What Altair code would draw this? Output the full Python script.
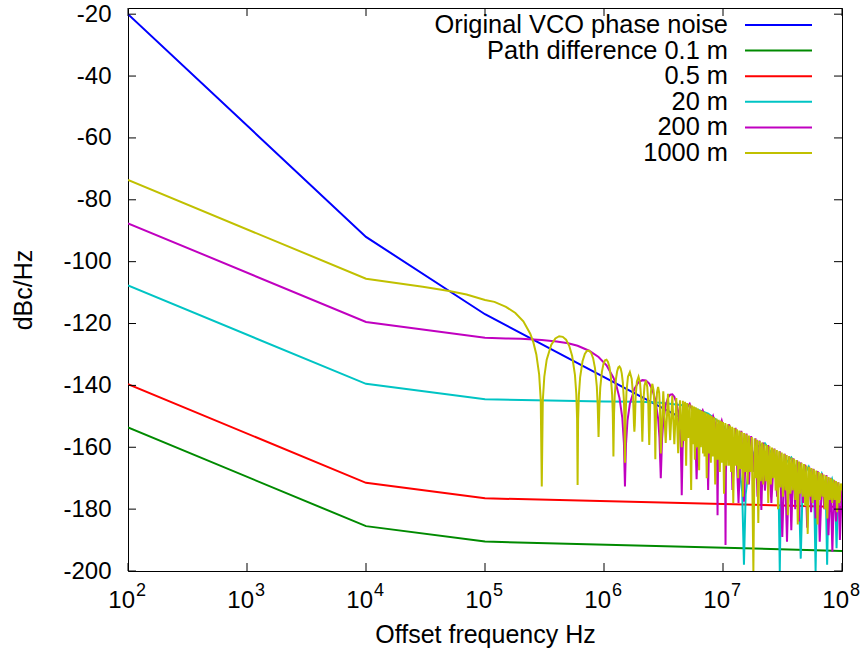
import altair as alt
import pandas as pd

FONT = "Liberation Sans"

# ---------------- data ----------------
vco_f = [1e2, 1e4, 1e5, 1e8]
vco_db = [-20.0, -92.0, -117.0, -178.0]

p01_f = [1e2, 1e4, 1e5, 1e8]
p01_db = [-153.6, -185.5, -190.5, -193.5]

p05_f = [1e2, 1e4, 1e5, 1e8]
p05_db = [-139.6, -171.5, -176.5, -179.3]

p20_f = [1e2, 1e4, 1e5, 1e6, 2e6, 3e6, 5e6, 7.5e6, 1e7, 1.2e7,
         1.35e7, 1.45e7, 1.5e7, 1.55e7, 1.65e7, 1.9e7, 2.25e7, 2.6e7, 2.85e7, 2.95e7,
         3.0e7, 3.05e7, 3.15e7, 3.4e7, 3.75e7, 4.1e7, 4.35e7, 4.5e7, 4.65e7, 4.9e7,
         5.25e7, 5.6e7, 5.85e7, 6.0e7, 6.15e7, 6.4e7, 6.75e7, 7.1e7, 7.35e7, 7.5e7,
         7.65e7, 7.9e7, 8.25e7, 8.6e7, 8.85e7, 9.0e7, 9.15e7, 9.4e7, 1e8]
p20_db = [-107.7, -139.5, -144.5, -145.2, -145.3, -145.6, -146.6, -149.1, -152.8, -157.8,
          -164.4, -174.4, -198.0, -175.2, -166.4, -160.0, -158.7, -162.4, -170.8, -180.5,
          -200.0, -180.9, -171.8, -164.9, -163.3, -166.7, -174.8, -196.0, -175.4, -168.3,
          -166.3, -169.5, -176.4, -200.0, -177.0, -170.7, -168.6, -171.6, -179.5, -198.0,
          -179.8, -172.5, -170.3, -173.3, -181.0, -192.6, -181.3, -174.1, -173.1]

p200_f = [1e2, 1e4, 1e5, 1.5e5, 2e5, 3e5, 4e5, 5e5, 6e5, 7.5e5, 9e5, 1.05e6, 1.2e6, 1.275e6, 1.35e6, 1.425e6, 1.47e6, 1.5e6,
          1.53e6, 1.575e6, 1.65e6, 1.8e6, 1.95e6, 2.1e6, 2.25e6, 2.4e6, 2.55e6, 2.7e6, 2.85e6, 2.925e6, 2.97e6, 3.0e6,
          3.03e6, 3.075e6, 3.15e6, 3.3e6, 3.45e6, 3.6e6, 3.75e6, 3.9e6, 4.05e6, 4.2e6, 4.35e6, 4.425e6, 4.47e6, 4.5e6,
          4.575e6, 4.725e6, 4.95e6, 5.25e6, 5.55e6, 5.775e6, 5.925e6, 6.0e6,
          6.075e6, 6.225e6, 6.45e6, 6.75e6, 7.05e6, 7.275e6, 7.425e6, 7.5e6,
          7.575e6, 7.725e6, 7.95e6, 8.25e6, 8.55e6, 8.775e6, 8.925e6, 9.0e6,
          9.075e6, 9.225e6, 9.45e6, 9.75e6, 1.005e7, 1.0275e7, 1.0425e7, 1.05e7,
          1.0575e7, 1.0725e7, 1.095e7, 1.125e7, 1.155e7, 1.1775e7, 1.1925e7, 1.2e7,
          1.275e7, 1.35e7, 1.425e7, 1.5e7, 1.575e7, 1.65e7, 1.725e7, 1.8e7, 1.875e7, 1.95e7,
          2.025e7, 2.1e7, 2.175e7, 2.25e7, 2.4e7, 2.55e7, 2.7e7, 2.85e7, 3.0e7, 3.15e7,
          3.3e7, 3.45e7, 3.6e7, 3.75e7, 3.9e7, 4.05e7, 4.2e7, 4.35e7, 4.5e7, 4.7e7,
          4.9e7, 5.1e7, 5.3e7, 5.5e7, 5.75e7, 6.0e7, 6.25e7, 6.5e7, 6.8e7, 7.1e7,
          7.4e7, 7.7e7, 8.0e7, 8.3e7, 8.6e7, 8.9e7, 9.3e7, 9.6e7, 1e8]
p200_db = [-87.6, -119.5, -124.6, -124.8, -124.9, -125.3, -125.8, -126.4, -127.2, -128.8, -130.8, -133.5, -137.5, -140.3, -144.1, -150.5, -158.6, -172.7,
           -159.1, -151.4, -145.9, -141.1, -139.0, -138.3, -138.4, -139.4, -141.4, -144.7, -150.7, -156.9, -164.9, -170.0,
           -165.1, -157.3, -151.6, -146.4, -144.0, -143.0, -142.9, -143.7, -145.5, -148.5, -154.5, -160.5, -168.5, -175.5,
           -160.8, -151.8, -147.2, -145.9, -148.2, -153.6, -163.1, -170.3,
           -163.3, -154.3, -149.6, -148.1, -150.3, -155.6, -165.1, -173.8,
           -165.3, -156.2, -151.4, -149.9, -152.0, -157.3, -166.7, -182.0,
           -166.8, -157.7, -152.9, -151.4, -153.5, -158.7, -168.1, -191.6,
           -168.2, -159.1, -154.2, -152.6, -154.7, -159.9, -169.3, -173.8,
           -153.7, -178.0, -154.7, -177.6, -155.6, -172.0, -156.4, -168.0, -157.1, -176.0,
           -157.8, -180.3, -158.5, -174.0, -159.3, -178.0, -160.4, -176.0, -161.3, -189.0,
           -162.1, -190.5, -162.9, -186.8, -163.6, -180.0, -164.2, -184.0, -164.9, -178.0,
           -165.6, -186.0, -166.3, -181.0, -167.0, -183.0, -167.7, -190.5, -168.4, -180.0,
           -169.0, -188.4, -169.9, -193.8, -170.7, -184.0, -171.3, -190.0, -172.0]

p1000_f = [1e2, 1e4, 3e4, 5e4, 7e4, 1e5, 1.2e5, 1.5e5, 1.8e5, 2.1e5, 2.4e5, 2.55e5, 2.7e5, 2.85e5, 2.94e5, 3e5,
           3.06e5, 3.15e5, 3.3e5, 3.6e5, 3.9e5, 4.2e5, 4.5e5, 4.8e5, 5.1e5, 5.4e5, 5.7e5, 5.85e5, 5.94e5, 6e5,
           6.06e5, 6.15e5, 6.3e5, 6.6e5, 6.9e5, 7.2e5, 7.5e5, 7.8e5, 8.1e5, 8.4e5, 8.7e5, 8.85e5, 9e5,
           9.15e5, 9.3e5, 9.6e5, 9.9e5, 1.02e6, 1.05e6, 1.08e6, 1.11e6, 1.14e6, 1.17e6, 1.185e6, 1.194e6, 1.2e6,
           1.206e6, 1.215e6, 1.23e6, 1.26e6, 1.29e6, 1.32e6, 1.35e6, 1.38e6, 1.41e6, 1.44e6, 1.47e6, 1.485e6, 1.5e6,
           1.515e6, 1.545e6, 1.59e6, 1.65e6, 1.71e6, 1.755e6, 1.785e6, 1.8e6,
           1.815e6, 1.845e6, 1.89e6, 1.95e6, 2.01e6, 2.055e6, 2.085e6, 2.1e6,
           2.115e6, 2.145e6, 2.19e6, 2.25e6, 2.31e6, 2.355e6, 2.385e6, 2.4e6,
           2.415e6, 2.445e6, 2.49e6, 2.55e6, 2.61e6, 2.655e6, 2.685e6, 2.7e6,
           2.715e6, 2.745e6, 2.79e6, 2.85e6, 2.91e6, 2.955e6, 2.985e6,
           3.0e6, 3.15e6, 3.3e6, 3.45e6, 3.6e6, 3.75e6, 3.9e6, 4.05e6, 4.2e6, 4.35e6,
           4.5e6, 4.6e6, 4.7e6, 4.8e6, 4.9e6, 5.0e6, 5.1e6, 5.25e6, 5.4e6, 5.5e6,
           5.6e6, 5.7e6, 5.8e6, 5.9e6, 6.0e6, 6.15e6, 6.3e6, 6.4e6, 6.5e6, 6.65e6,
           6.8e6, 6.9e6, 7.0e6, 7.15e6, 7.3e6, 7.45e6, 7.6e6, 7.75e6, 7.9e6, 8.05e6,
           8.2e6, 8.4e6, 8.6e6, 8.8e6, 9.0e6, 9.2e6, 9.4e6, 9.6e6, 9.8e6, 1.0e7,
           1.02e7, 1.045e7, 1.07e7, 1.095e7, 1.12e7, 1.145e7, 1.17e7, 1.195e7, 1.22e7, 1.25e7,
           1.28e7, 1.31e7, 1.34e7, 1.37e7, 1.40e7, 1.435e7, 1.47e7, 1.505e7, 1.54e7, 1.575e7,
           1.61e7, 1.65e7, 1.69e7, 1.745e7, 1.80e7, 1.845e7, 1.89e7, 1.935e7, 1.98e7, 2.03e7,
           2.08e7, 2.13e7, 2.18e7, 2.235e7, 2.29e7, 2.345e7, 2.40e7, 2.46e7, 2.52e7, 2.58e7,
           2.64e7, 2.705e7, 2.77e7, 2.835e7, 2.90e7, 2.97e7, 3.04e7, 3.115e7, 3.19e7, 3.27e7,
           3.35e7, 3.43e7, 3.51e7, 3.595e7, 3.68e7, 3.77e7, 3.86e7, 3.955e7, 4.05e7, 4.15e7,
           4.25e7, 4.355e7, 4.46e7, 4.57e7, 4.68e7, 4.795e7, 4.91e7, 5.03e7, 5.15e7, 5.275e7,
           5.40e7, 5.53e7, 5.66e7, 5.80e7, 5.94e7, 6.085e7, 6.23e7, 6.38e7, 6.53e7, 6.69e7,
           6.85e7, 7.015e7, 7.18e7, 7.355e7, 7.53e7, 7.715e7, 7.90e7, 8.09e7, 8.28e7, 8.48e7,
           8.68e7, 8.89e7, 9.10e7, 9.32e7, 9.54e7, 9.77e7, 1e8]
p1000_db = [-73.6, -105.5, -108.1, -109.5, -110.6, -112.4, -113.0, -114.6, -116.6, -119.3, -123.3, -126.1, -130.0, -136.4, -144.6, -172.7,
            -144.9, -137.2, -131.7, -126.9, -124.8, -124.1, -124.3, -125.2, -127.2, -130.5, -136.6, -142.7, -150.7, -172.2,
            -150.9, -143.1, -137.4, -132.2, -129.8, -128.8, -128.8, -129.5, -131.2, -134.4, -140.3, -146.3, -156.7,
            -146.6, -140.8, -135.6, -133.0, -131.9, -131.7, -132.4, -134.0, -137.0, -142.9, -148.9, -156.8, -163.0,
            -157.0, -149.1, -143.4, -138.0, -135.4, -134.2, -133.9, -134.5, -136.1, -139.1, -144.9, -150.9, -165.0,
            -151.1, -142.0, -137.2, -135.7, -137.9, -143.1, -152.5, -155.0,
            -152.7, -143.5, -138.7, -137.2, -139.3, -144.5, -153.9, -158.2,
            -154.0, -144.9, -140.0, -138.4, -140.5, -145.7, -155.1, -159.3,
            -155.2, -146.0, -141.2, -139.5, -141.6, -146.8, -156.1, -163.9,
            -156.2, -147.0, -142.2, -140.5, -142.5, -147.7, -157.0,
            -162.0, -141.9, -158.6, -142.7, -157.7, -143.4, -159.0, -144.1, -161.9, -144.8,
            -160.0, -145.0, -158.0, -145.3, -166.0, -145.7, -157.0, -146.1, -173.8, -146.5,
            -159.0, -146.8, -164.0, -147.1, -160.0, -147.5, -167.4, -147.9, -160.0, -148.2,
            -162.0, -148.5, -163.0, -148.8, -170.0, -149.2, -162.0, -149.5, -165.0, -149.9,
            -163.0, -150.3, -172.0, -150.7, -164.0, -151.1, -168.0, -151.4, -165.0, -151.8,
            -175.0, -152.2, -166.0, -152.6, -166.0, -153.0, -168.0, -153.4, -178.0, -153.8,
            -166.0, -154.2, -170.0, -154.6, -167.0, -155.0, -176.0, -155.4, -168.0, -155.8,
            -172.0, -156.2, -168.0, -156.7, -200.0, -157.2, -170.0, -157.6, -184.5, -158.0,
            -171.0, -158.5, -172.0, -158.9, -171.0, -159.3, -178.0, -159.7, -172.0, -160.1,
            -170.0, -160.5, -174.0, -160.9, -180.0, -161.3, -173.0, -161.7, -176.0, -162.1,
            -174.0, -162.5, -182.0, -162.9, -175.0, -163.3, -174.0, -163.7, -177.0, -164.1,
            -185.0, -164.6, -175.0, -165.0, -176.0, -165.4, -179.0, -165.9, -188.0, -166.3,
            -176.0, -166.7, -178.0, -167.1, -177.0, -167.5, -185.0, -168.0, -177.0, -168.4,
            -176.0, -168.8, -180.0, -169.2, -183.0, -169.6, -177.0, -170.0, -178.0, -170.4,
            -177.0, -170.9, -181.0, -171.3, -178.0, -171.7, -174.0]

labels = ["Original VCO phase noise", "Path difference 0.1 m", "0.5 m",
          "20 m", "200 m", "1000 m"]
colors = ["#0000ff", "#008a00", "#ff0000", "#00c4c4", "#c000c0", "#c0c000"]
freqs = [vco_f, p01_f, p05_f, p20_f, p200_f, p1000_f]
values = [vco_db, p01_db, p05_db, p20_db, p200_db, p1000_db]

x_tick_vals = [1e2, 1e3, 1e4, 1e5, 1e6, 1e7, 1e8]
x_tick_exps = ["2", "3", "4", "5", "6", "7", "8"]
y_tick_vals = [-20, -40, -60, -80, -100, -120, -140, -160, -180, -200]

# ---------------- layout ----------------
W, H = 714, 563
x_scale = alt.Scale(type="log", domain=[1e2, 1e8], nice=False)
y_scale = alt.Scale(domain=[-200, -18], nice=False, zero=False)

x_axis = alt.Axis(labels=False, ticks=False, domain=False, grid=False,
                  title="Offset frequency Hz", titleFont=FONT, titleFontSize=25,
                  titleFontWeight="normal", titleColor="black", titlePadding=51)
y_axis = alt.Axis(values=y_tick_vals, labelExpr="'' + datum.value", ticks=False, tickSize=0,
                  domain=False, grid=False, labelFont=FONT, labelFontSize=24,
                  labelColor="black", labelPadding=17,
                  title="dBc/Hz", titleFont=FONT, titleFontSize=25,
                  titleFontWeight="normal", titleColor="black", titlePadding=26)

layers = []
for name, f, db, col in zip(labels, freqs, values, colors):
    df = pd.DataFrame({"f": f, "db": db, "i": list(range(len(f)))})
    layers.append(
        alt.Chart(df).mark_line(color=col, strokeWidth=2, clip=True).encode(
            x=alt.X("f:Q", scale=x_scale, axis=x_axis),
            y=alt.Y("db:Q", scale=y_scale, axis=y_axis),
            order="i:Q",
        )
    )

# inward ticks on all four sides
xt = pd.DataFrame({"f": x_tick_vals, "base": ["10"] * len(x_tick_vals), "exp": x_tick_exps})
yt = pd.DataFrame({"v": y_tick_vals})
X = alt.X("f:Q", scale=x_scale, axis=x_axis)
Y = alt.Y("v:Q", scale=y_scale, axis=y_axis)
tick_style = dict(color="black", strokeWidth=1)
layers += [
    alt.Chart(xt).mark_rule(**tick_style).encode(x=X, y=alt.value(H), y2=alt.value(H - 8)),
    alt.Chart(xt).mark_rule(**tick_style).encode(x=X, y=alt.value(0), y2=alt.value(8)),
    alt.Chart(yt).mark_rule(**tick_style).encode(y=Y, x=alt.value(0), x2=alt.value(8)),
    alt.Chart(yt).mark_rule(**tick_style).encode(y=Y, x=alt.value(W - 8), x2=alt.value(W)),
    alt.Chart(xt).mark_text(align="right", baseline="alphabetic", dx=7, font=FONT,
                            fontSize=24, color="black").encode(
        x=X, y=alt.value(H + 37), text="base:N"),
    alt.Chart(xt).mark_text(align="left", baseline="alphabetic", dx=8, font=FONT,
                            fontSize=18, color="black").encode(
        x=X, y=alt.value(H + 25), text="exp:N"),
]

# key, top right inside the frame
row_y = [17, 42.6, 68.2, 93.8, 119.4, 145]
for lab, col, ry in zip(labels, colors, row_y):
    d = pd.DataFrame({"label": [lab]})
    layers.append(alt.Chart(d).mark_text(align="right", baseline="middle", font=FONT,
                                         fontSize=25.4, color="black").encode(
        x=alt.value(600), y=alt.value(ry), text="label:N"))
    layers.append(alt.Chart(d).mark_rule(color=col, strokeWidth=2).encode(
        x=alt.value(617), x2=alt.value(684), y=alt.value(ry)))

chart = alt.layer(*layers).properties(
    width=W, height=H,
    autosize=alt.AutoSizeParams(type="none"),
    padding={"left": 128, "top": 8, "right": 22, "bottom": 81},
    background="white",
).configure_view(stroke="black", strokeWidth=1)

chart.save("out.html", embed_options={"renderer": "svg", "actions": False})
